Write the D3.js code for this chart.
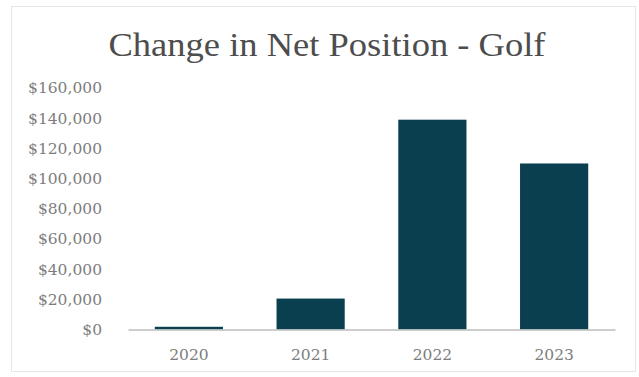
<!DOCTYPE html>
<html>
<head>
<meta charset="utf-8">
<script src="https://cdn.jsdelivr.net/npm/d3@7"></script>
<style>
  html, body { margin: 0; padding: 0; background: #ffffff; }
  svg { display: block; }
</style>
</head>
<body>
<div id="chart"></div>
<script>
// Chart data
const years = ["2020", "2021", "2022", "2023"];
const netChange = [1800, 20500, 139000, 110000];
const yTicks = [0, 20000, 40000, 60000, 80000, 100000, 120000, 140000, 160000];
const title = "Change in Net Position - Golf";

const W = 639, H = 377;
const margin = { left: 128, right: 24, top: 88, bottom: 47.5 };

const svg = d3.select("#chart").append("svg")
  .attr("width", W).attr("height", H);

// Chart frame
svg.append("rect")
  .attr("x", 11.5).attr("y", 6.5)
  .attr("width", 624).attr("height", 365)
  .attr("fill", "#ffffff")
  .attr("stroke", "#e6e6e6")
  .attr("stroke-width", 1);

const x = d3.scaleBand()
  .domain(years)
  .range([margin.left, W - margin.right])
  .paddingInner(0.44)
  .paddingOuter(0.22);

const y = d3.scaleLinear()
  .domain([0, 160000])
  .range([H - margin.bottom, margin.top]);

// Title
svg.append("text")
  .attr("x", 327).attr("y", 56)
  .attr("text-anchor", "middle")
  .attr("font-family", "'Liberation Serif', serif")
  .attr("font-size", 33)
  .attr("fill", "#4d4d4d")
  .attr("textLength", 437)
  .attr("lengthAdjust", "spacingAndGlyphs")
  .text(title);

// Y axis (labels only)
const fmt = d3.format("$,");
const yAxis = svg.append("g")
  .attr("transform", `translate(${margin.left},0)`)
  .call(d3.axisLeft(y).tickValues(yTicks).tickFormat(fmt).tickSize(0).tickPadding(26));
yAxis.select(".domain").remove();
yAxis.selectAll("text")
  .attr("font-family", "'DejaVu Serif', serif")
  .attr("font-size", 15.5)
  .attr("fill", "#7d7d7d");

// Bars
svg.append("g").selectAll("rect")
  .data(years.map((yr, i) => ({ yr, v: netChange[i] })))
  .join("rect")
  .attr("x", d => x(d.yr))
  .attr("width", x.bandwidth())
  .attr("y", d => y(d.v))
  .attr("height", d => y(0) - y(d.v))
  .attr("fill", "#0a3f50");

// X axis
const xAxis = svg.append("g")
  .attr("transform", `translate(0,${y(0)})`)
  .call(d3.axisBottom(x).tickSize(0).tickPadding(19));
xAxis.select(".domain")
  .attr("stroke", "#bdbdbd")
  .attr("stroke-width", 1.5);
xAxis.selectAll("text")
  .attr("font-family", "'DejaVu Serif', serif")
  .attr("font-size", 15.5)
  .attr("fill", "#7d7d7d");
</script>
</body>
</html>
